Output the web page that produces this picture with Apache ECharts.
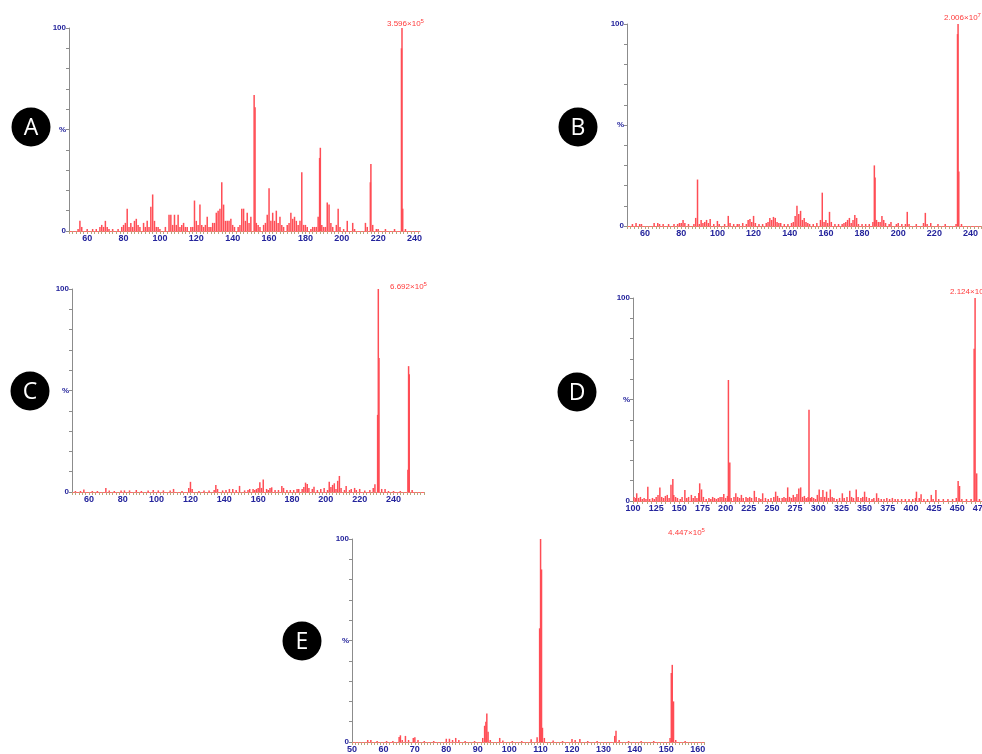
<!DOCTYPE html>
<html>
<head>
<meta charset="utf-8">
<style>
  html, body { margin: 0; padding: 0; background: #fff; }
  #main { width: 982px; height: 754px; }
</style>
<script src="https://cdn.jsdelivr.net/npm/echarts@6.0.0/dist/echarts.min.js"></script>
</head>
<body>
<div id="main"></div>
<script>
// [m/z, relative intensity %]
const peaksA = [[55,1],[56,5],[57,2],[60,1],[63,1],[65,1],[67,2],[68,3],[69,2],[70,5],[71,2],[72,1],[74,1],[77,1],[79,2],[80,3],[81,4],[82,11],[83,2],[84,4],[85,2],[86,5],[87,6],[88,3],[89,2],[91,4],[92,2],[93,5],[94,2],[95,12],[96,18],[97,5],[98,2],[99,2],[100,1],[103,2],[105,8],[106,8],[107,3],[108,8],[109,3],[110,8],[111,2],[112,3],[113,4],[114,2],[115,2],[117,2],[118,2],[119,15],[120,5],[121,3],[122,13],[123,3],[124,2],[125,3],[126,7],[127,2],[128,2],[129,4],[130,4],[131,9],[132,10],[133,11],[134,24],[135,13],[136,5],[137,5],[138,5],[139,6],[140,3],[141,2],[143,2],[144,3],[145,11],[146,11],[147,5],[148,9],[149,4],[150,7],[151.8,67],[152.3,61],[153,4],[154,3],[155,2],[157,3],[158,4],[159,8],[160,21],[161,5],[162,9],[163,5],[164,10],[165,4],[166,7],[167,3],[168,2],[170,3],[171,4],[172,9],[173,6],[174,7],[175,5],[176,3],[177,5],[178,29],[179,3],[180,3],[181,2],[183,1],[184,2],[185,2],[186,2],[187,7],[187.8,36],[188.2,41],[189,3],[190,2],[191,2],[192,14],[193,13],[194,4],[195,2],[197,3],[198,11],[199,2],[201,1],[203,5],[206,4],[207,1],[213,4],[214,2],[215.7,24],[216,33],[217,3],[219,1],[220,1],[224,1],[229,1],[232.8,90],[233.1,100],[233.5,11],[235,1]];

const peaksB = [[53,1],[55,1.5],[57,1],[58,1],[65,1.5],[67,1.5],[68,1],[70,1],[73,1],[76,1],[78,1],[79,1.5],[80,1.5],[81,3],[82,1.5],[84,1],[87,1],[88,4],[89,23],[90,1],[91,3],[92,1.5],[93,2],[94,3],[95,1.5],[96,3.5],[98,1],[100,2.5],[101,1],[104,1],[106,5],[107,1.5],[109,1],[111,1],[112,1],[114,1.5],[116,1],[117,3],[118,3.5],[119,2],[120,5],[121,1.5],[123,1],[125,1],[127,1.5],[128,2],[129,4],[130,3],[131,4.5],[132,4],[133,2],[134,1.5],[135,1.5],[137,1],[139,1],[141,1.5],[142,2],[143,5],[144,10],[145,6],[146,7.5],[147,3],[148,4],[149,2],[150,1.5],[151,1],[153,1],[155,1.5],[157,3],[158,16.5],[159,2],[160,3],[161,1.5],[162,7],[163,2],[165,1],[167,1],[169,1],[170,1.5],[171,2],[172,3],[173,4],[174,1.5],[175,3],[176,5.5],[177,4],[178,1],[180,1],[182,1],[184,1],[186,2],[186.8,30],[187.2,24],[188,3],[189,2],[190,2],[191,5],[192,3],[193,1.5],[195,1],[196,2],[199,1],[200,1.5],[202,1],[204,1],[205,7],[206,1],[210,1],[214,1.5],[215,6.5],[216,1],[218,1.5],[222,1],[226,1],[232,1],[232.8,95],[233.1,100],[233.5,27],[235,1]];

const peaksC = [[52,0.5],[55,0.5],[57,1.2],[62,0.5],[65,0.5],[70,2],[72,0.8],[75,0.5],[79,0.8],[81,0.8],[84,0.8],[88,1],[91,0.5],[95,0.8],[98,1],[101,0.8],[104,0.8],[108,0.8],[110,1.5],[115,0.5],[119,2],[120,5],[121,1.5],[125,0.5],[128,0.8],[131,0.8],[134,1],[135,3.4],[136,1.5],[139,0.8],[141,1],[143,1.5],[145,1.5],[147,1],[149,3],[152,0.8],[154,1],[155,1.5],[157,1.5],[158,1],[159,1.5],[160,2],[161,4.8],[162,2],[163,6.2],[165,1.5],[166,1],[167,2],[168,2.3],[170,1],[172,1],[174,3],[175,2],[177,1],[179,1],[181,1],[183,1.5],[184,1.5],[186,1.5],[187,2.5],[188,4.6],[189,4],[190,2],[192,1.5],[193,2.6],[195,1],[197,1.5],[199,2],[201,1],[202,5],[203,2.5],[204,3.5],[205,4.3],[206,1.5],[207,5.5],[208,7.9],[209,2],[211,1],[212,3],[214,1],[215,1.5],[217,2],[218,1],[220,1.5],[223,0.8],[226,1],[228,2],[229,3.8],[230.6,38],[231,100],[231.4,66],[233,1.5],[235,1.5],[237,0.5],[240,0.5],[244,0.5],[248.5,11],[248.9,62],[249.3,58],[251,1]];

const peaksD = [[101,2],[103,1.5],[104,3.8],[106,1.5],[108,2],[110,1],[112,1.5],[114,1],[116,7],[118,1],[121,1.5],[123,1],[125,2],[127,3],[129,6.6],[131,2],[133,1.5],[135,2.5],[137,3],[139,1.5],[141,8],[143,10.8],[144,3],[146,2],[148,1.5],[151,1],[153,2],[156,5.4],[158,1.5],[160,2],[163,3],[165,1.5],[167,2.5],[169,1.5],[171,4],[172,8.7],[174,5.7],[176,2],[179,1],[182,1.5],[184,1],[186,2],[188,1.5],[190,1],[192,1.5],[194,2],[196,2],[198,3.4],[200,1.5],[202,2.5],[203,59.6],[204.5,19],[206,1.5],[209,2],[211,3.8],[213,2],[215,1.5],[217,3],[219,1.5],[222,2],[224,1.5],[226,2],[228,1.5],[231,5],[233,2],[236,1.5],[238,1],[240,3.8],[243,1.5],[246,1],[249,1.5],[252,2],[254,4.6],[256,2.5],[258,1.5],[261,1.5],[263,2],[265,1.5],[267,6.7],[269,2],[271,1.5],[273,3],[275,2],[277,3.5],[279,6.2],[281,6.7],[283,2],[285,2.5],[287,1.5],[289,2],[290,45],[291.5,1.5],[293,2],[295,1.5],[297,1],[299,3],[301,5.7],[303,2],[305,5.4],[307,2],[309,4.6],[311,1.5],[313,5.7],[315,2],[317,1.5],[320,1],[323,1.5],[326,3.8],[328,1.5],[331,2],[334,5],[336,2],[338,1.5],[341,5.7],[343,2],[346,1.5],[348,2],[350,4.6],[352,2],[355,1.5],[358,1],[360,1.5],[363,3.8],[365,1.5],[368,1],[371,1],[374,1.5],[377,1],[380,1.5],[383,1],[386,1],[390,1],[394,1],[398,1],[402,1],[405,1.5],[406,4.6],[409,1.5],[411,3.3],[414,1],[418,1],[422,3],[424,1],[427,5.4],[430,1],[435,1],[440,1],[445,1],[449,1.5],[451,9.8],[452.5,7.4],[455,1],[460,1],[465,1],[468.3,75],[469.3,100],[471,13.6],[474,1],[478,1]];

const peaksE = [[55,1],[56,1],[58,0.5],[61,0.5],[63,0.5],[65,2.5],[65.4,3.3],[66,1],[67,3],[68,1],[69.5,2],[70,2.3],[71,1],[73,0.5],[76,0.5],[80,1.6],[81,1.6],[82,1],[83,2],[84,1],[86,0.5],[89,0.5],[91.6,2],[92.2,8],[92.6,10],[92.9,14],[93.3,5],[94,1],[97,2],[98,0.8],[101,0.5],[104,0.5],[107,1.3],[108.9,2.3],[109.7,56],[110,100],[110.3,85],[110.6,7],[111.2,2],[114,0.8],[117,0.5],[120,1.5],[121,1],[122.5,1.5],[125,0.5],[128,0.5],[133.6,3],[134,5.6],[135,1],[138,0.5],[142,0.5],[146,0.5],[151.2,2],[151.6,34],[151.9,38],[152.3,20],[153,1],[156,0.5]];

// axis tick labels
const labelsA = [60, 80, 100, 120, 140, 160, 180, 200, 220, 240];
const labelsB = [60, 80, 100, 120, 140, 160, 180, 200, 220, 240];
const labelsC = [60, 80, 100, 120, 140, 160, 180, 200, 220, 240];
const labelsD = [100, 125, 150, 175, 200, 225, 250, 275, 300, 325, 350, 375, 400, 425, 450, 475];
const labelsE = [50, 60, 70, 80, 90, 100, 110, 120, 130, 140, 150, 160];

// base peak intensities
const basePeaks = ['3.596×10', '2.006×10', '6.692×10', '2.124×10', '4.447×10'];
const baseExp = ['5', '7', '5', '5', '5'];
const panelNames = ['A', 'B', 'C', 'D', 'E'];

const RED = '#ff4d55';
const BLUE = '#24249c';

// panel layout: grid box, x range, minor tick step, panel badge, base peak label position
const panels = [
    { grid: [69, 28, 351, 203], min: 50, max: 243, step: 2, labels: labelsA, data: peaksA, badge: [31, 127], bp: [387, 24] },
    { grid: [627, 24, 358, 202], min: 50, max: 248, step: 2, labels: labelsB, data: peaksB, badge: [578, 127], bp: [944, 18] },
    { grid: [72, 289, 352, 203], min: 50, max: 258, step: 2, labels: labelsC, data: peaksC, badge: [30, 391], bp: [390, 287] },
    { grid: [633, 298, 352, 203], min: 100, max: 480, step: 5, labels: labelsD, data: peaksD, badge: [577, 392], bp: [950, 292] },
    { grid: [352, 539, 352, 203], min: 50, max: 162, step: 1, labels: labelsE, data: peaksE, badge: [302, 641], bp: [668, 533] }
];

function ticksFor(p) {
    const out = [];
    for (let v = p.min; v <= p.max; v += p.step) out.push(v);
    return out;
}

const grids = [], xAxes = [], yAxes = [], series = [], graphics = [];

panels.forEach((p, i) => {
    grids.push({
        left: p.grid[0], top: p.grid[1], width: p.grid[2], height: p.grid[3],
        containLabel: false, outerBoundsMode: 'none'
    });
    xAxes.push({
        type: 'value', gridIndex: i, min: p.min, max: p.max,
        axisLine: { onZero: false, lineStyle: { color: '#ff6a6a', width: 1 } },
        axisTick: { show: true, customValues: ticksFor(p), length: 3, lineStyle: { color: '#b9a57c' } },
        axisLabel: {
            customValues: p.labels, color: BLUE, fontSize: 9, margin: 3,
            fontFamily: 'Liberation Sans', fontWeight: 'bold'
        },
        splitLine: { show: false }
    });
    yAxes.push({
        type: 'value', gridIndex: i, min: 0, max: 100, interval: 10,
        axisLine: { show: true, onZero: false, lineStyle: { color: '#8c8c8c' } },
        axisTick: { show: true, length: 3, lineStyle: { color: '#8c8c8c' } },
        axisLabel: {
            color: BLUE, fontSize: 8, margin: 3, fontFamily: 'Liberation Sans', fontWeight: 'bold',
            formatter: v => v === 100 ? '100' : v === 50 ? '%' : v === 0 ? '0' : ''
        },
        splitLine: { show: false }
    });
    series.push({
        type: 'bar', xAxisIndex: i, yAxisIndex: i, data: p.data,
        barWidth: 1.5, itemStyle: { color: RED }, silent: true
    });
    graphics.push({
        type: 'circle', shape: { cx: p.badge[0], cy: p.badge[1], r: 19.5 },
        style: { fill: '#000' }
    });
    graphics.push({
        type: 'text', x: p.badge[0], y: p.badge[1] + 1,
        style: {
            text: panelNames[i], fill: '#fff', font: '500 23px "Open Sans"',
            align: 'center', verticalAlign: 'middle'
        }
    });
    graphics.push({
        type: 'text', x: p.bp[0], y: p.bp[1],
        style: {
            text: '{a|' + basePeaks[i] + '}{s|' + baseExp[i] + '}',
            verticalAlign: 'middle',
            rich: {
                a: { fill: '#ff3b3b', fontSize: 8, fontFamily: 'Liberation Sans' },
                s: { fill: '#ff3b3b', fontSize: 6, fontFamily: 'Liberation Sans', verticalAlign: 'top', padding: [0, 0, 6, 0] }
            }
        }
    });
});

const chart = echarts.init(document.getElementById('main'));
chart.setOption({
    animation: false,
    backgroundColor: '#fff',
    grid: grids,
    xAxis: xAxes,
    yAxis: yAxes,
    series: series,
    graphic: graphics
});
</script>
</body>
</html>
